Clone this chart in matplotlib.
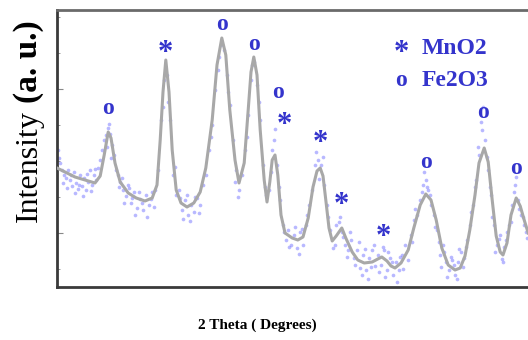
import numpy as np
import matplotlib
matplotlib.use("Agg")
import matplotlib.pyplot as plt

# smoothed fit (2 theta in degrees, intensity in a.u.)
fit_theta = [15.0, 16.0, 17.25, 18.5, 19.75, 20.4, 20.9, 21.4, 21.75, 22.25, 22.9, 23.9, 24.9, 26.0,
             26.9, 27.5, 27.9, 28.25, 28.6, 29.0, 29.4, 29.9, 30.5, 31.25, 32.1, 32.9, 33.6, 34.4,
             35.0, 35.6, 36.1, 36.6, 37.25, 37.75, 38.4, 38.9, 39.25, 39.6, 40.0, 40.4, 40.9, 41.25,
             41.6, 41.9, 42.25, 42.6, 43.0, 43.5, 44.4, 45.1, 45.75, 46.4, 47.0, 47.5, 47.9, 48.25,
             48.6, 49.0, 49.4, 49.9, 50.6, 51.1, 51.9, 52.6, 53.4, 54.4, 55.1, 55.6, 56.25, 56.75,
             57.25, 58.0, 58.9, 59.6, 60.4, 61.1, 61.75, 62.4, 63.1, 63.9, 64.75, 65.4, 66.0, 66.6,
             67.25, 67.75, 68.4, 68.9, 69.4, 69.9, 70.4, 70.75, 71.25, 71.75, 72.4, 72.9, 73.4, 73.9]
fit_int = [119, 115, 110, 107, 104, 111, 132, 155, 149, 124, 105, 94, 89, 86,
           89, 102, 147, 195, 227, 195, 137, 97, 84, 80, 84, 95, 119, 167,
           222, 249, 232, 177, 127, 104, 124, 177, 215, 230, 212, 157, 107, 85,
           105, 127, 132, 112, 72, 54, 49, 47, 50, 69, 100, 116, 119, 111,
           87, 59, 46, 51, 59, 49, 35, 27, 24, 25, 28, 30, 26, 21,
           19, 24, 37, 59, 82, 93, 87, 67, 39, 22, 17, 19, 31, 57,
           92, 124, 139, 125, 87, 51, 35, 32, 44, 72, 89, 81, 67, 54]

# measured points
raw_theta = [15.1, 15.4, 15.6, 15.9, 16.1, 16.4, 16.6, 16.9, 17.1, 17.4, 17.6, 17.9, 18.1, 18.4,
             18.6, 18.9, 19.1, 19.4, 19.6, 19.9, 20.1, 20.4, 20.6, 20.9, 21.1, 21.4, 21.6, 21.9,
             22.1, 22.4, 22.6, 22.9, 23.25, 23.6, 23.9, 24.25, 24.6, 25.0, 25.4, 25.75, 26.1, 26.5,
             26.9, 27.25, 27.6, 28.0, 28.4, 28.75, 29.1, 29.5, 29.9, 30.25, 30.6, 31.0, 31.4, 31.75,
             32.1, 32.5, 32.9, 33.25, 33.6, 34.0, 34.4, 34.75, 35.1, 35.5, 35.9, 36.25, 36.6, 37.0,
             37.4, 37.75, 38.1, 38.5, 38.9, 39.25, 39.6, 40.0, 40.4, 40.75, 41.1, 41.5, 41.9, 42.1,
             42.5, 42.9, 43.25, 43.6, 43.9, 44.25, 44.6, 45.0, 45.4, 45.75, 46.1, 46.5, 46.9, 47.25,
             47.6, 48.0, 48.4, 48.75, 49.1, 49.5, 49.9, 50.25, 50.6, 51.0, 51.4, 51.75, 52.1, 52.5,
             52.9, 53.25, 53.6, 54.0, 54.4, 54.75, 55.1, 55.5, 55.9, 56.25, 56.6, 57.0, 57.4, 57.75,
             58.1, 58.5, 58.9, 59.25, 59.6, 60.0, 60.4, 60.75, 61.1, 61.4, 61.75, 62.1, 62.5, 62.9,
             63.25, 63.6, 64.0, 64.4, 64.75, 65.1, 65.5, 65.9, 66.25, 66.6, 67.0, 67.4, 67.75, 68.1,
             68.5, 68.9, 69.25, 69.6, 70.0, 70.4, 70.75, 71.1, 71.5, 71.9, 72.25, 72.6, 73.0, 73.4,
             73.75,
             15.3, 15.8, 16.3, 16.8, 17.3, 17.8, 18.3, 18.8, 19.3, 19.8,
             21.2, 21.5, 21.8, 22.7, 23.1,
             23.4, 24.0, 24.4, 24.8, 25.2, 25.6, 26.3, 26.7, 27.1,
             28.2, 28.9, 29.7,
             30.4, 30.8, 31.2, 31.6, 32.3, 32.7,
             34.2, 35.3, 36.4, 37.2, 37.6, 38.7, 39.4, 40.2, 41.0,
             41.7, 42.3, 42.8,
             43.4, 44.0, 44.8, 45.2, 45.6, 46.3,
             47.4, 47.8, 48.2, 48.9,
             49.7, 50.4, 50.8, 51.2, 51.6, 52.3, 52.7, 53.1, 53.5, 53.9, 54.2, 54.6, 55.3, 55.7,
             56.0, 56.4, 56.9, 57.5, 57.9, 58.3,
             59.4, 59.8, 60.6, 60.9, 61.3, 61.6, 62.2, 62.7,
             63.0, 63.4, 63.8, 64.2, 64.6, 65.0, 65.3, 65.7, 66.1,
             66.8, 67.2, 67.6, 68.0, 68.3, 68.7, 69.1, 69.4,
             69.8, 70.2, 70.6, 70.9, 71.3, 71.7, 72.1, 72.4, 72.8, 73.2, 73.6]
raw_int = [137, 124, 117, 112, 109, 117, 107, 101, 115, 104, 98, 112, 101, 109,
           97, 105, 117, 102, 112, 107, 119, 127, 137, 147, 152, 159, 153, 142,
           132, 117, 112, 105, 97, 91, 102, 84, 95, 79, 88, 77, 92, 82,
           95, 97, 117, 167, 207, 212, 167, 112, 92, 97, 77, 87, 72, 82,
           75, 89, 82, 102, 112, 137, 162, 197, 217, 242, 237, 212, 182, 147,
           117, 97, 112, 137, 172, 207, 225, 202, 167, 122, 92, 97, 137, 147,
           122, 87, 62, 47, 57, 42, 52, 39, 55, 42, 62, 82, 97, 122,
           127, 122, 102, 82, 57, 39, 62, 65, 55, 42, 37, 47, 29, 37,
           19, 32, 17, 29, 37, 21, 32, 22, 37, 17, 29, 12, 25, 17,
           32, 42, 27, 52, 67, 72, 87, 102, 107, 97, 82, 72, 57, 32,
           42, 25, 17, 27, 12, 25, 35, 29, 47, 62, 82, 107, 132, 157,
           147, 117, 92, 62, 42, 52, 25, 47, 62, 82, 102, 87, 72, 62,
           49,
           129, 104, 99, 112, 94, 102, 91, 113, 96, 118,
           140, 163, 129, 100, 109,
           84, 99, 89, 72, 95, 84, 70, 88, 80,
           180, 185, 120,
           89, 68, 92, 66, 90, 74,
           150, 230, 195, 105, 90, 150, 222, 185, 100,
           115, 158, 100,
           55, 40, 60, 33, 58, 72,
           135, 108, 130, 70,
           42, 70, 50, 30, 55, 22, 45, 12, 38, 8, 20, 42, 15, 40,
           10, 35, 25, 5, 30, 18,
           45, 78, 95, 115, 100, 92, 60, 45,
           20, 35, 10, 30, 22, 8, 38, 20, 40,
           75, 100, 140, 165, 180, 130, 100, 70,
           35, 48, 28, 40, 55, 65, 95, 110, 78, 70, 55]

# phase markers above the peaks
mark_theta = [21.4, 28.5, 35.6, 39.6, 42.6, 43.4, 47.9, 50.6, 55.75, 61.1, 68.25, 72.4]
mark_int = [179, 234, 262, 242, 195, 161, 144, 81, 49, 124, 175, 119]
mark_sym = ["o", "*", "o", "o", "o", "*", "*", "*", "*", "o", "o", "o"]

legend_sym = ["*", "o"]
legend_name = ["MnO2", "Fe2O3"]
legend_int = [239, 207]

blue = "#3434cc"

fig = plt.figure(figsize=(5.28, 3.4), dpi=100)
ax = fig.add_axes([57 / 528, 53 / 340, 480 / 528, 277 / 340])

ax.scatter(raw_theta, raw_int, s=7, color="#7f7fff", alpha=0.55, linewidths=0, zorder=2)
ax.plot(fit_theta, fit_int, color="#a8a8a8", lw=2.2, solid_joinstyle="round", zorder=3)

for t, i, s in zip(mark_theta, mark_int, mark_sym):
    ax.text(t, i, s, color=blue, fontsize=22 if s == "*" else 17, fontweight="bold",
            family="Liberation Serif", ha="center", va="center")

for s, name, y in zip(legend_sym, legend_name, legend_int):
    ax.text(58.0, y - 6 if s == "*" else y, s, color=blue, fontsize=22 if s == "*" else 17,
            fontweight="bold", family="Liberation Serif", ha="center", va="center")
    ax.text(60.6, y, name, color=blue, fontsize=17, fontweight="bold",
            family="Liberation Serif", ha="left", va="center")

ax.set_xlim(15, 75)
ax.set_ylim(0, 277)
ax.set_xticks([])
ax.set_yticks([54, 198])
ax.set_yticks(np.arange(18, 277, 36), minor=True)
ax.tick_params(axis="y", which="both", direction="in", labelleft=False, color="#888888")
ax.tick_params(axis="y", which="major", length=4)
ax.tick_params(axis="y", which="minor", length=2)
ax.spines["right"].set_visible(False)
for side in ["left", "bottom", "top"]:
    ax.spines[side].set_linewidth(2.0)
    ax.spines[side].set_color("#3a3a3a")
ax.spines["top"].set_color("#6a6a6a")

fig.text(29 / 528, 1 - 222 / 340, "Intensity", rotation=90, family="Liberation Serif",
         fontsize=23, ha="center", va="bottom")
fig.text(29 / 528, 1 - 20 / 340, "(a. u.)", rotation=90, family="Liberation Serif",
         fontsize=24, fontweight="bold", ha="center", va="top")
fig.text(257 / 528, 1 - 325 / 340, "2 Theta ( Degrees)", family="Liberation Serif",
         fontsize=11, fontweight="bold", ha="center", va="center")

fig.savefig("out.png", dpi=100)
